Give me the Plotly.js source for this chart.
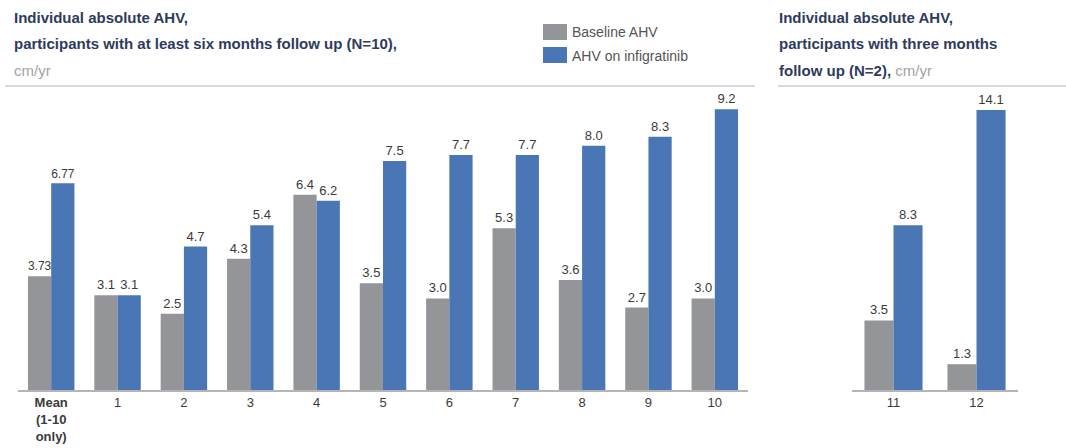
<!DOCTYPE html>
<html><head><meta charset="utf-8">
<script src="https://cdn.plot.ly/plotly-3.0.1.min.js"></script>
<style>html,body{margin:0;padding:0;background:#fff}#chart{width:1066px;height:448px}</style>
</head><body><div id="chart"></div>
<script>
const leftCategories = ["Mean", "1", "2", "3", "4", "5", "6", "7", "8", "9", "10"];
const leftTickLabels = ["<b>Mean</b><br><b>(1-10</b><br><b>only)</b>", "1", "2", "3", "4", "5", "6", "7", "8", "9", "10"];
const leftBaseline = [3.73, 3.1, 2.5, 4.3, 6.4, 3.5, 3.0, 5.3, 3.6, 2.7, 3.0];
const leftInfigratinib = [6.77, 3.1, 4.7, 5.4, 6.2, 7.5, 7.7, 7.7, 8.0, 8.3, 9.2];
const rightCategories = ["11", "12"];
const rightBaseline = [3.5, 1.3];
const rightInfigratinib = [8.3, 14.1];
const seriesNames = ["Baseline AHV", "AHV on infigratinib"];
const leftTitleLines = ["<b>Individual absolute AHV,</b>", "<b>participants with at least six months follow up (N=10),</b>", "<span style='color:#a3a3a3'>cm/yr</span>"];
const rightTitleLines = ["<b>Individual absolute AHV,</b>", "<b>participants with three months</b>", "<b>follow up (N=2),</b> <span style='color:#a3a3a3'>cm/yr</span>"];

const GRAY = "#939598", BLUE = "#4a76b6";
const FONT = "Liberation Sans, Arial, sans-serif";
const fmtL = arr => arr.map((v, i) => v.toFixed(i === 0 ? 2 : 1));
const fmtR = arr => arr.map(v => v.toFixed(1));
const textFont = {family: FONT, size: 13, color: "#3a3a3a"};

const traces = [
  {type: "bar", name: seriesNames[0], x: leftCategories, y: leftBaseline, marker: {color: GRAY},
   text: fmtL(leftBaseline), textposition: "outside", textfont: textFont, cliponaxis: false, xaxis: "x", yaxis: "y", hoverinfo: "none"},
  {type: "bar", name: seriesNames[1], x: leftCategories, y: leftInfigratinib, marker: {color: BLUE},
   text: fmtL(leftInfigratinib), textposition: "outside", textfont: textFont, cliponaxis: false, xaxis: "x", yaxis: "y", hoverinfo: "none"},
  {type: "bar", name: seriesNames[0], x: rightCategories, y: rightBaseline, marker: {color: GRAY},
   text: fmtR(rightBaseline), textposition: "outside", textfont: textFont, cliponaxis: false, xaxis: "x2", yaxis: "y2", hoverinfo: "none"},
  {type: "bar", name: seriesNames[1], x: rightCategories, y: rightInfigratinib, marker: {color: BLUE},
   text: fmtR(rightInfigratinib), textposition: "outside", textfont: textFont, cliponaxis: false, xaxis: "x2", yaxis: "y2", hoverinfo: "none"}
];

const W = 1066, H = 448;
const py = v => (H - v) / H;
const px = v => v / W;
const yDom = [py(390), py(100)];
const tickFont = {family: FONT, size: 13, color: "#3a3a3a"};
const titleColor = "#2e3b5c";

const shapes = [
  {type: "line", xref: "paper", yref: "paper", x0: px(5), x1: px(755), y0: py(86), y1: py(86), line: {color: "#c9ccd8", width: 1.5}},
  {type: "line", xref: "paper", yref: "paper", x0: px(778), x1: px(1066), y0: py(86), y1: py(86), line: {color: "#c9ccd8", width: 1.5}},
  {type: "rect", xref: "paper", yref: "paper", x0: px(543), x1: px(567), y0: py(24), y1: py(40), fillcolor: GRAY, line: {width: 0}},
  {type: "rect", xref: "paper", yref: "paper", x0: px(543), x1: px(567), y0: py(47), y1: py(63), fillcolor: BLUE, line: {width: 0}}
];

const annotations = [];
const lineYs = [18, 44, 70];
leftTitleLines.forEach((t, i) => annotations.push({xref: "paper", yref: "paper", x: px(12), y: py(lineYs[i]), xanchor: "left", yanchor: "middle",
  showarrow: false, text: t, font: {family: FONT, size: 15, color: titleColor}}));
rightTitleLines.forEach((t, i) => annotations.push({xref: "paper", yref: "paper", x: px(777), y: py(lineYs[i]), xanchor: "left", yanchor: "middle",
  showarrow: false, text: t, font: {family: FONT, size: 15, color: titleColor}}));
[32, 56].forEach((yy, i) => annotations.push({xref: "paper", yref: "paper", x: px(570), y: py(yy), xanchor: "left", yanchor: "middle",
  showarrow: false, text: seriesNames[i], font: {family: FONT, size: 14, color: "#555"}}));

const layout = {
  width: W, height: H,
  margin: {l: 0, r: 0, t: 0, b: 0},
  paper_bgcolor: "#fff", plot_bgcolor: "#fff",
  barmode: "group", bargap: 0.3, bargroupgap: 0,
  showlegend: false,
  font: {family: FONT},
  xaxis: {domain: [px(18), px(748)], type: "category", range: [-0.5, 10.5], showline: true, linecolor: "#b5b5b5", linewidth: 1.5,
          ticks: "", tickvals: leftCategories, ticktext: leftTickLabels, tickfont: tickFont, showgrid: false, zeroline: false, fixedrange: true},
  yaxis: {domain: yDom, range: [0, 9.5], visible: false, fixedrange: true},
  xaxis2: {domain: [px(852), px(1018)], type: "category", range: [-0.5, 1.5], showline: true, linecolor: "#b5b5b5", linewidth: 1.5,
           ticks: "", tickfont: tickFont, showgrid: false, zeroline: false, anchor: "y2", fixedrange: true},
  yaxis2: {domain: yDom, range: [0, 14.6], visible: false, anchor: "x2", fixedrange: true},
  shapes: shapes,
  annotations: annotations
};

Plotly.newPlot("chart", traces, layout, {displayModeBar: false, staticPlot: true});
</script></body></html>
